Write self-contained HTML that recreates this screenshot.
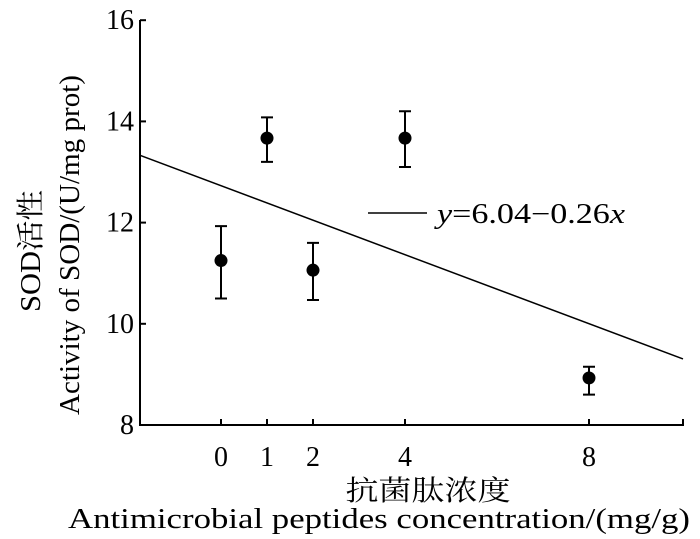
<!DOCTYPE html>
<html><head><meta charset="utf-8"><style>
body{margin:0;background:#fff;}
text{font-family:"Liberation Serif","Noto Serif CJK SC",serif;fill:#000;}
</style></head><body>
<svg width="700" height="534" viewBox="0 0 700 534">
<g id="axes"></g>
<g id="marks"></g>
<line x1="368" y1="213" x2="427" y2="213" stroke="#000" stroke-width="1.5"/>
<text x="437" y="223" font-size="28" textLength="188" lengthAdjust="spacingAndGlyphs"><tspan font-style="italic">y</tspan>=6.04−0.26<tspan font-style="italic">x</tspan></text>
<text transform="translate(40,251) rotate(-90)" text-anchor="middle" font-size="28" textLength="122" lengthAdjust="spacingAndGlyphs">SOD活性</text>
<text transform="translate(79,245) rotate(-90)" text-anchor="middle" font-size="28" textLength="340" lengthAdjust="spacingAndGlyphs">Activity of SOD/(U/mg prot)</text>
<text x="428" y="500" text-anchor="middle" font-size="28" textLength="165" lengthAdjust="spacingAndGlyphs">抗菌肽浓度</text>
<text x="379" y="528" text-anchor="middle" font-size="29" textLength="622" lengthAdjust="spacingAndGlyphs">Antimicrobial peptides concentration/(mg/g)</text>
</svg>
<script>
const xCats=[0,1,2,4,8];
const means=[11.25,13.67,11.06,13.67,8.93];
const upper=[11.93,14.08,11.6,14.2,9.15];
const lower=[10.5,13.2,10.47,13.1,8.6];
const yTicks=[8,10,12,14,16];
const fitIntercept=12.73, fitSlope=-0.341;
const ns="http://www.w3.org/2000/svg";
const X=v=>221+46*v, Y=v=>425-(v-8)*50.6;
const L=140,R=683,T=20,B=425;
const ax=document.getElementById('axes'), mk=document.getElementById('marks');
function el(t,a,p){const e=document.createElementNS(ns,t);for(const k in a)e.setAttribute(k,a[k]);p.appendChild(e);return e;}
let e=el('path',{d:`M${L},${T}V${B}H${R}V${B-6}`,fill:'none',stroke:'#000','stroke-width':2},ax);

yTicks.forEach(v=>{let t=el('line',{x1:L,x2:L+6,y1:Y(v),y2:Y(v),stroke:'#000','stroke-width':2},ax);

let s=el('text',{x:L-6,y:Y(v)+9,'text-anchor':'end','font-size':28},ax);s.textContent=v;
});
xCats.forEach(v=>{let t=el('line',{x1:X(v),x2:X(v),y1:B,y2:B-6,stroke:'#000','stroke-width':2},ax);

let s=el('text',{x:X(v),y:B+41,'text-anchor':'middle','font-size':28},ax);s.textContent=v;
});
const x0=(L-221)/46,x1=(R-221)/46;
let f=el('line',{x1:X(x0),y1:Y(fitIntercept+fitSlope*x0),x2:X(x1),y2:Y(fitIntercept+fitSlope*x1),stroke:'#000','stroke-width':1.5},mk);

xCats.forEach((c,i)=>{const x=X(c);
let g=el('path',{d:`M${x},${Y(upper[i])}V${Y(lower[i])}M${x-6},${Y(upper[i])}h12M${x-6},${Y(lower[i])}h12`,stroke:'#000','stroke-width':2,fill:'none'},mk);

let p=el('circle',{cx:x,cy:Y(means[i]),r:6.5,fill:'#000'},mk);
});
</script>
</body></html>
